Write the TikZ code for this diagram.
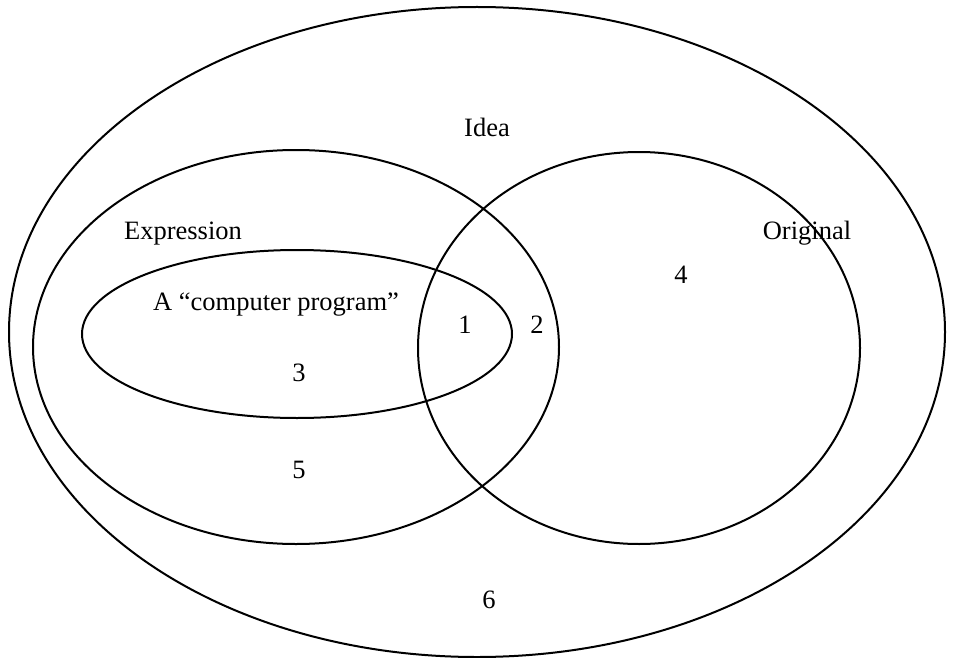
\documentclass[tikz,border=0pt]{standalone}
\usepackage{fontspec}
\setmainfont{Liberation Serif}
\begin{document}
\begin{tikzpicture}[x=1pt,y=-1pt,
  ring/.style={draw=black,line width=2pt},
  lbl/.style={font=\fontsize{26.5}{30}\selectfont,inner sep=0pt,anchor=base}]
\useasboundingbox (0,0) rectangle (958,658);
\draw[ring] (477,332) ellipse [x radius=468, y radius=325];
\draw[ring] (296,347) ellipse [x radius=263, y radius=197];
\draw[ring] (639,348) ellipse [x radius=221, y radius=196];
\draw[ring] (297,334) ellipse [x radius=215, y radius=84];
\node[lbl] (idea) at (487,136) {Idea};
\node[lbl] (expr) at (183,239) {Expression};
\node[lbl] (orig) at (807,239) {Original};
\node[lbl] (prog) at (276,310) {A “computer program”};
\node[lbl] (n1) at (465,333) {1};
\node[lbl] (n2) at (537,333) {2};
\node[lbl] (n3) at (299,381) {3};
\node[lbl] (n4) at (681,283) {4};
\node[lbl] (n5) at (299,478) {5};
\node[lbl] (n6) at (489,608) {6};
\end{tikzpicture}
\end{document}
